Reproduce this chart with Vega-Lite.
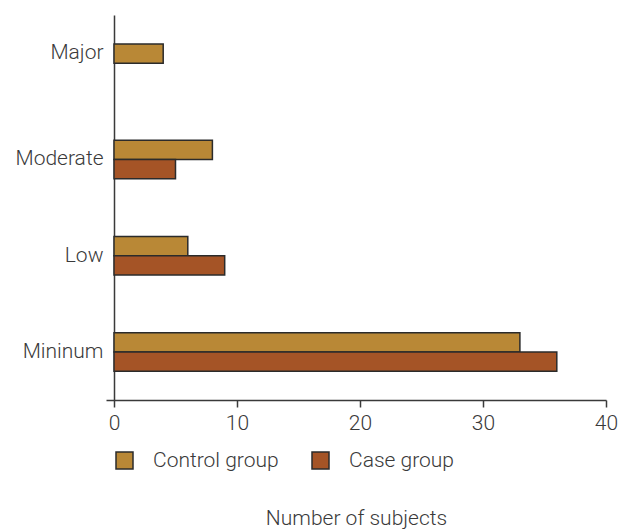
{
  "$schema": "https://vega.github.io/schema/vega-lite/v6.json",
  "width": 500,
  "height": 385,
  "autosize": {"type": "none"},
  "padding": {"left": 106, "top": 15, "right": 16, "bottom": 131},
  "background": "white",
  "config": {
    "view": {"stroke": null},
    "font": "Roboto",
    "axis": {"labelFont": "Roboto", "titleFont": "Roboto", "labelColor": "#3a3a3a", "titleColor": "#3a3a3a", "domainColor": "#3a3a3a", "tickColor": "#3a3a3a", "grid": false, "labelFontWeight": 300, "titleFontWeight": 300},
    "legend": {"labelFont": "Roboto", "labelColor": "#3a3a3a", "labelFontWeight": 300}
  },
  "data": {
    "values": [
      {"severity": "Major", "group": "Control group", "subjects": 4},
      {"severity": "Moderate", "group": "Control group", "subjects": 8},
      {"severity": "Moderate", "group": "Case group", "subjects": 5},
      {"severity": "Low", "group": "Control group", "subjects": 6},
      {"severity": "Low", "group": "Case group", "subjects": 9},
      {"severity": "Mininum", "group": "Control group", "subjects": 33},
      {"severity": "Mininum", "group": "Case group", "subjects": 36}
    ]
  },
  "mark": {"type": "bar", "stroke": "#2b2b2b", "strokeWidth": 1.5},
  "encoding": {
    "y": {
      "field": "severity",
      "type": "nominal",
      "sort": ["Major", "Moderate", "Low", "Mininum"],
      "scale": {"paddingInner": 0.6, "paddingOuter": 0.3},
      "axis": {"title": null, "ticks": false, "labelFontSize": 21, "labelPadding": 11, "domainWidth": 1.5, "offset": -8,
        "labelOffset": {"condition": {"test": "datum.value === 'Major'", "value": -10}, "value": 0}}
    },
    "yOffset": {
      "field": "group",
      "type": "nominal",
      "sort": ["Control group", "Case group"]
    },
    "x": {
      "field": "subjects",
      "type": "quantitative",
      "scale": {"domain": [-0.65, 40], "nice": false, "zero": false},
      "axis": {"values": [0, 10, 20, 30, 40], "title": "Number of subjects", "titleFontSize": 21, "titlePadding": 74, "labelFontSize": 21, "labelPadding": 5, "tickSize": 7, "domainWidth": 1.5, "tickWidth": 1.5, "labelFlush": false}
    },
    "color": {
      "field": "group",
      "type": "nominal",
      "sort": ["Control group", "Case group"],
      "scale": {"domain": ["Control group", "Case group"], "range": ["#B98836", "#A55426"]},
      "legend": {
        "title": null,
        "orient": "none",
        "direction": "horizontal",
        "legendX": 8,
        "legendY": 435,
        "symbolType": "square",
        "symbolSize": 289,
        "symbolStrokeColor": "#2b2b2b",
        "symbolStrokeWidth": 1.5,
        "symbolOpacity": 1,
        "labelFontSize": 21,
        "labelOffset": 18,
        "columnPadding": 30
      }
    }
  }
}
